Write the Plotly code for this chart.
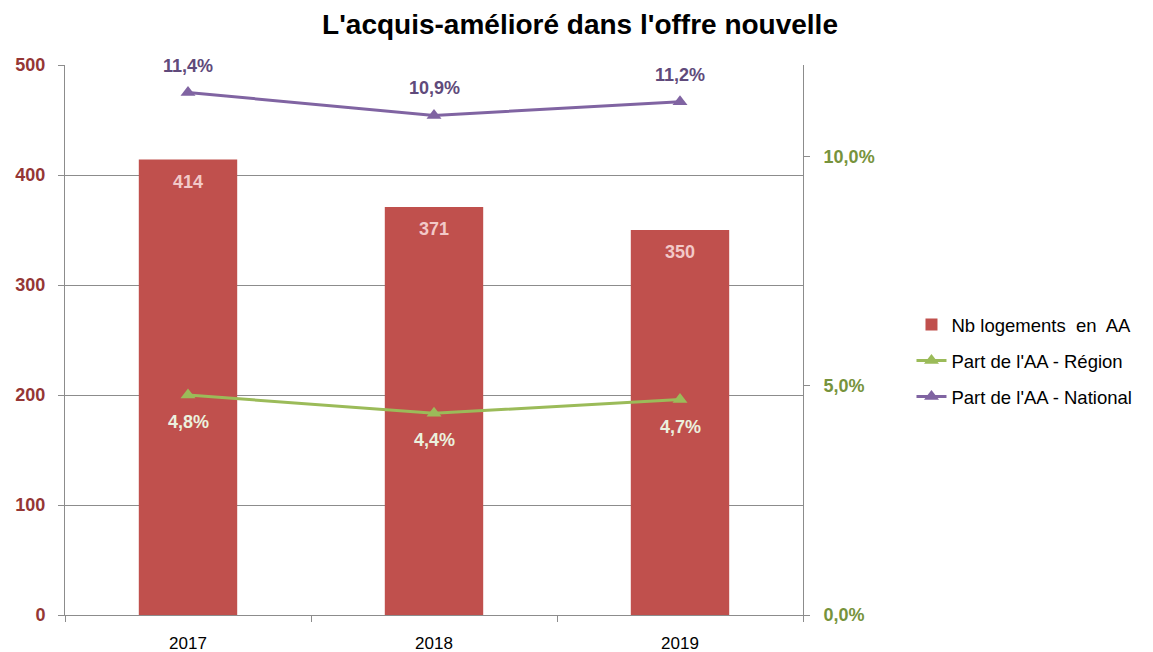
import plotly.graph_objects as go

# donnees
annees = ['2017', '2018', '2019']
nb_logements = [414, 371, 350]
part_region = [4.8, 4.4, 4.7]
part_national = [11.4, 10.9, 11.2]

rouge = '#C0504D'
vert = '#9BBB59'
violet = '#8064A2'
grille = '#8C8C8C'
police = 'Liberation Sans, Arial, sans-serif'

def fr(v):
    return f'{v:.1f}%'.replace('.', ',')

fig = go.Figure()

fig.add_trace(go.Bar(x=annees, y=nb_logements, name='Nb logements  en  AA',
                     marker=dict(color=rouge, line=dict(width=0)), width=0.4,
                     legendgroup='a'))
fig.add_trace(go.Scatter(x=annees, y=part_region, yaxis='y2', name="Part de l'AA - Région",
                         mode='lines+markers', line=dict(color=vert, width=3),
                         marker=dict(symbol='triangle-up', size=13, color=vert),
                         legendgroup='b'))
fig.add_trace(go.Scatter(x=annees, y=part_national, yaxis='y2', name="Part de l'AA - National",
                         mode='lines+markers', line=dict(color=violet, width=3),
                         marker=dict(symbol='triangle-up', size=13, color=violet),
                         legendgroup='c'))

# etiquettes (x en index de categorie)
annots = []
for i, n in enumerate(nb_logements):
    annots.append(dict(x=i, y=n, yref='y', text=f'<b>{n}</b>', showarrow=False,
                       yshift=-22, font=dict(size=18, color='#F2C9C8', family=police)))
for i, v in enumerate(part_region):
    annots.append(dict(x=i, y=v, yref='y2', text=f'<b>{fr(v)}</b>', showarrow=False,
                       yshift=-27, font=dict(size=18, color='#EBF1DE', family=police)))
for i, v in enumerate(part_national):
    annots.append(dict(x=i, y=v, yref='y2', text=f'<b>{fr(v)}</b>', showarrow=False,
                       yshift=27, font=dict(size=18, color='#604A7B', family=police)))

fig.update_layout(
    width=1145, height=644,
    margin=dict(l=57, r=350, t=57, b=37),
    plot_bgcolor='white', paper_bgcolor='white',
    font=dict(family=police, size=17, color='black'),
    title=dict(text="<b>L'acquis-amélioré dans l'offre nouvelle</b>", x=0.4996, xanchor='center',
               y=0.975, yanchor='middle', font=dict(size=28, color='black')),
    showlegend=True,
    legend=dict(x=1.147, xanchor='left', y=0.462, yanchor='middle',
                font=dict(size=18.5, color='black'), tracegroupgap=9,
                bgcolor='rgba(0,0,0,0)'),
    annotations=annots,
    xaxis=dict(range=[-0.5, 2.5], showline=True, linecolor=grille, linewidth=1,
               ticks='outside', tickson='boundaries', ticklen=6, tickcolor=grille,
               showgrid=False, ticklabelstandoff=13, automargin=False,
               tickfont=dict(size=17, color='black')),
    yaxis=dict(range=[0, 500], dtick=100, showline=True, linecolor=grille, linewidth=1,
               ticks='outside', ticklen=6, tickcolor=grille, gridcolor=grille, gridwidth=1,
               zeroline=False, ticklabelstandoff=9, automargin=False,
               tickfont=dict(size=18, color='#953735', family=police), tickprefix='<b>',
               ticksuffix='</b>'),
    yaxis2=dict(range=[0, 12], overlaying='y', side='right', tickvals=[0, 5, 10],
                ticktext=['<b>0,0%</b>', '<b>5,0%</b>', '<b>10,0%</b>'],
                showline=True, linecolor=grille, linewidth=1, ticks='outside', ticklen=6,
                tickcolor=grille, showgrid=False, zeroline=False, ticklabelstandoff=10,
                automargin=False, tickfont=dict(size=18, color='#77933C')),
)

fig.write_html('out.html')
